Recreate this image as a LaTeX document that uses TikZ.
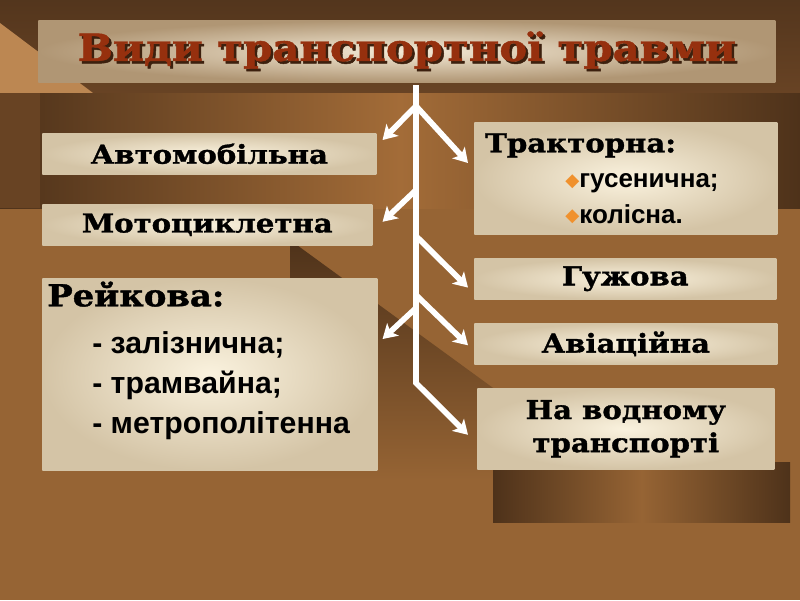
\documentclass[tikz,border=0pt]{standalone}
\usepackage{fontspec}
\setmainfont{DejaVu Serif}[FakeStretch=1.12, BoldFeatures={FakeBold=1.3}]
\newfontfamily\arialfont{Liberation Sans}
\newfontfamily\symbfont{DejaVu Sans}
\usetikzlibrary{arrows.meta,calc}
\newlength{\px}\setlength{\px}{0.025cm}
\newcommand{\slabfont}{\bfseries\fontsize{18.5}{23.5}\selectfont}
\newcommand{\itemfont}{\arialfont\bfseries\fontsize{18.5}{22}\selectfont}
\newcommand{\railfont}{\arialfont\bfseries\fontsize{21.5}{25}\selectfont}
\newcommand{\dmd}{\raisebox{1.5\px}{\symbfont\fontsize{13}{14}\selectfont\color{bulletcolor}◆}}

\begin{document}
\begin{tikzpicture}[x=0.025cm, y=-0.025cm,
    plate/.style={shade, inner color=platein, outer color=plateout, anchor=north west, inner sep=0pt, align=center, font=\slabfont},
    branch/.style={draw=white, line width=4pt, -{Stealth[length=10pt, width=12pt, inset=2.5pt]}}]
    % Define colors
    \definecolor{bgbase}{RGB}{150, 100, 52}
    \definecolor{bgtop}{RGB}{104, 67, 36}
    \definecolor{bgdark}{RGB}{78, 50, 26}
    \definecolor{bglight}{RGB}{163, 108, 56}
    \definecolor{bgtan}{RGB}{188, 135, 82}
    \definecolor{platein}{RGB}{250, 242, 222}
    \definecolor{plateout}{RGB}{212, 196, 166}
    \definecolor{titlein}{RGB}{244, 234, 214}
    \definecolor{titleout}{RGB}{176, 150, 116}
    \definecolor{titletext}{RGB}{150, 48, 14}
    \definecolor{titleshadow}{RGB}{60, 32, 14}
    \definecolor{bulletcolor}{RGB}{240, 145, 45}

    % Background
    \fill[bgbase] (0,0) rectangle (800,600);
    \shade[top color=bgtop!80!black, bottom color=bgtop] (0,0) rectangle (800,93);
    \fill[bgtan] (0,23) -- (93,93) -- (0,93) -- cycle;
    \shade[left color=bgdark, right color=bgdark, middle color=bglight] (0,93) rectangle (800,208);
    \fill[bgdark!70!bglight] (0,93) rectangle (40,208);
    \shade[top color=bgdark, bottom color=bgbase] (290,240) -- (500,393) -- (500,480) -- (290,480) -- cycle;
    \shade[left color=bgdark, right color=bgdark, middle color=bgbase] (493,462) rectangle (790,522);

    % Title
    \node[shade, inner color=titlein, outer color=titleout, anchor=north west, inner sep=0pt,
        minimum width=737*\px, minimum height=62*\px, font=\bfseries\fontsize{26.5}{30}\selectfont] (title) at (38,20)
        {\raisebox{-3\px}{\makebox[0pt][l]{\color{titleshadow}\hspace*{2.5\px}\raisebox{-2.5\px}{Види транспортної травми}}\color{titletext}Види транспортної травми}};

    % Left column
    \node[plate, minimum width=334*\px, minimum height=41*\px] (auto) at (42,133) {Автомобільна};
    \node[plate, minimum width=330*\px, minimum height=41*\px] (moto) at (42,204) {Мотоциклетна};
    \node[plate, minimum width=335*\px, minimum height=192*\px] (rail) at (42,278)
        {\parbox[t][192\px][t]{335\px}{\raggedright\baselineskip=40\px\lineskiplimit=0pt
        \hspace*{5\px}\rule{0pt}{28\px}{\bfseries\fontsize{21.5}{24}\selectfont Рейкова:}\par\vspace{7\px}
        \hspace*{50\px}{\railfont - залізнична;}\par
        \hspace*{50\px}{\railfont - трамвайна;}\par
        \hspace*{50\px}{\railfont - метрополітенна}\par}};

    % Right column
    \node[plate, minimum width=303*\px, minimum height=112*\px] (tractor) at (474,122)
        {\parbox[t][112\px][t]{303\px}{\raggedright\baselineskip=35.5\px\lineskiplimit=0pt
        \hspace*{11\px}\rule{0pt}{30\px}{\slabfont Тракторна:}\par
        \hspace*{91\px}\dmd{\itemfont гусенична;}\par
        \hspace*{91\px}\dmd{\itemfont колісна.}\par}};
    \node[plate, minimum width=302*\px, minimum height=41*\px] (horse) at (474,258) {Гужова};
    \node[plate, minimum width=303*\px, minimum height=41*\px] (air) at (474,323) {Авіаційна};
    \node[plate, minimum width=297*\px, minimum height=81*\px] (water) at (477,388) {На водному\\транспорті};

    % Trunk and branches
    \coordinate (jtop) at (416,85);
    \coordinate (jbot) at (416,383);
    \coordinate (j1) at (416,106);
    \coordinate (j2) at (416,190);
    \coordinate (j3) at (416,236);
    \coordinate (j4) at (416,295);
    \coordinate (j5) at (416,308);
    \draw[branch] (jtop) -- (jbot) -- ($(water.west)+(-9,6)$);
    \draw[branch] (j1) -- ($(auto.north east)+(6,7)$);
    \draw[branch] (j1) -- ($(tractor.north west)+(-6,41)$);
    \draw[branch] (j2) -- ($(moto.east)+(10,-3)$);
    \draw[branch] (j3) -- ($(horse.south west)+(-6,-12)$);
    \draw[branch] (j4) -- ($(air.west)+(-6,1.5)$);
    \draw[branch] (j5) -- ($(rail.north east)+(5,61)$);
\end{tikzpicture}
\end{document}
